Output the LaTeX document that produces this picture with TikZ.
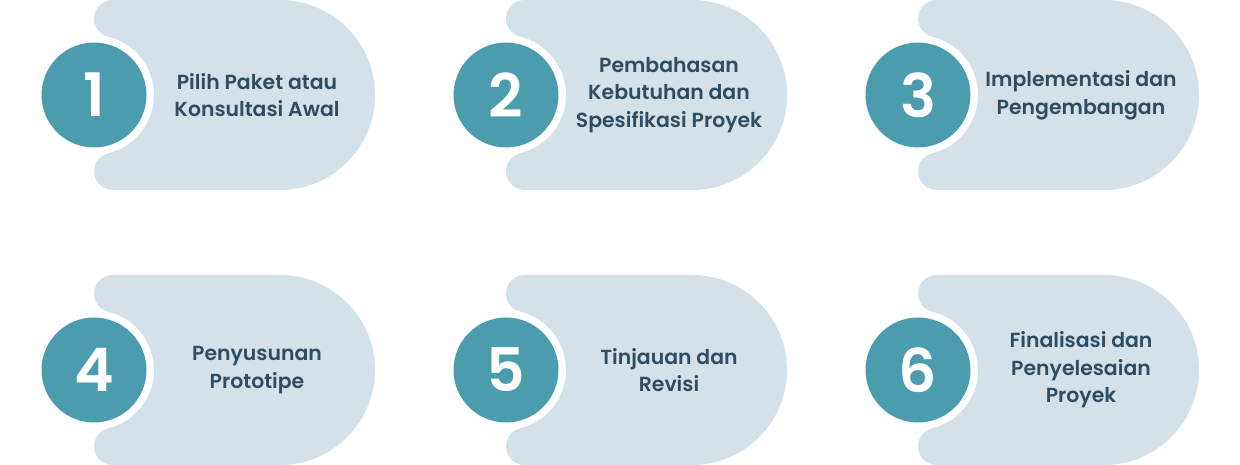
\documentclass[tikz,border=0pt]{standalone}
\usepackage{fontspec}
\newfontfamily\cardfont{Poppins SemiBold}
\definecolor{cardbg}{HTML}{D5E1E9}
\definecolor{numteal}{HTML}{4B9DAE}
\definecolor{cardtext}{HTML}{2C4D63}
\tikzset{
  numcircle/.style={circle,fill=numteal,minimum size=52.5pt,inner sep=0pt,text=white,font=\cardfont\fontsize{30}{30}\selectfont},
  cardlabel/.style={align=center,text=cardtext,inner sep=0pt,font=\cardfont\fontsize{10.2}{13.8}\selectfont}
}
\begin{document}
\begin{tikzpicture}[x=0.5pt,y=0.5pt]
	\useasboundingbox (0,0) rectangle (1240,465);
	
	\foreach \cx/\cy/\i/\txt in {94/370/1/{Pilih Paket atau\\Konsultasi Awal},
		506/370/2/{Pembahasan\\Kebutuhan dan\\Spesifikasi Proyek},
		918/370/3/{Implementasi dan\\Pengembangan},
		94/95/4/{Penyusunan\\Prototipe},
		506/95/5/{Tinjauan dan\\Revisi},
		918/95/6/{Finalisasi dan\\Penyelesaian\\Proyek}}{
		\begin{scope}[shift={(\cx,\cy)}]
			% card with the cut-out ring round the number
			\fill [cardbg] (186,95) -- (18.6,95)
				arc [start angle=90, end angle=256.32, radius=18.6]
				arc [start angle=76.32, end angle=-76.32, radius=60]
				arc [start angle=103.68, end angle=270, radius=18.6]
				-- (186,-95) arc [start angle=-90, end angle=90, radius=95] -- cycle;
			\node [numcircle] (num\i) at (0,0) {\i};
			\node [cardlabel] (label\i) at (163,0) {\txt};
		\end{scope}
	}
\end{tikzpicture}
\end{document}
